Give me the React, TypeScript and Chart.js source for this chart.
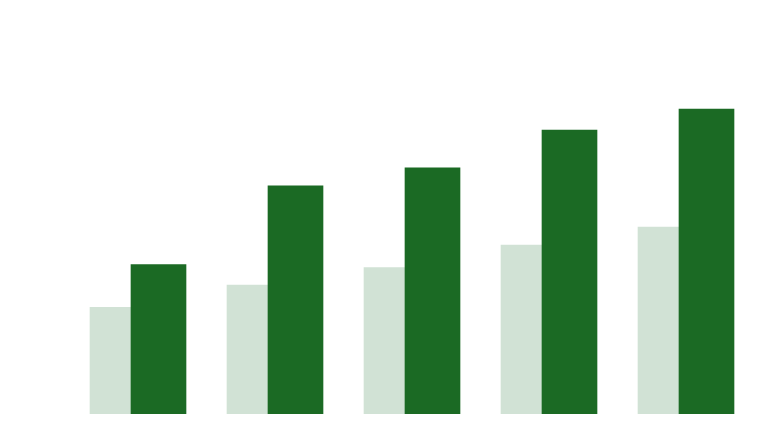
import React, { useEffect, useRef } from "react";
import { Chart, registerables } from "chart.js";

Chart.register(...registerables);

const categories = ["A", "B", "C", "D", "E"];
const seriesLight = [35, 42.3, 48, 55.4, 61.3];
const seriesDark = [49, 74.8, 80.7, 93.1, 100];

const SHIFT = 0.1496;

export default function App() {
  const ref = useRef<HTMLCanvasElement>(null);
  useEffect(() => {
    if (!ref.current) return;
    const chart = new Chart(ref.current, {
      type: "bar",
      data: {
        labels: categories,
        datasets: [
          {
            label: "Dark",
            data: seriesDark.map((v, i) => ({ x: i + SHIFT, y: v })),
            backgroundColor: "#1b6a24",
            borderWidth: 0,
            grouped: false,
            barThickness: 55,
          },
          {
            label: "Light",
            data: seriesLight.map((v, i) => ({ x: i - SHIFT, y: v })),
            backgroundColor: "#d1e2d5",
            borderWidth: 0,
            grouped: false,
            barThickness: 55,
          },
        ],
      },
      options: {
        animation: false,
        responsive: true,
        maintainAspectRatio: false,
        layout: { padding: { left: 61.5, right: 5.5, top: 40, bottom: 14 } },
        plugins: { legend: { display: false }, tooltip: { enabled: false } },
        scales: {
          x: { type: "linear", display: false, min: -0.5, max: 4.5, offset: false },
          y: { display: false, min: 0, max: 120 },
        },
      },
    });
    return () => chart.destroy();
  }, []);
  return (
    <div style={{ width: 752, height: 420, position: "relative" }}>
      <canvas ref={ref} />
    </div>
  );
}
